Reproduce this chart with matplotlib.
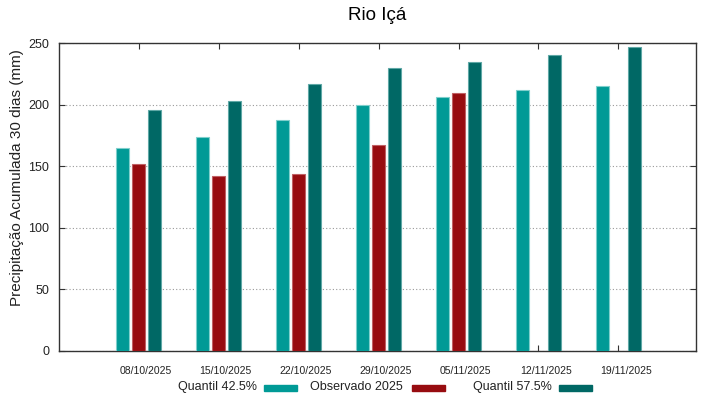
import matplotlib
matplotlib.use("Agg")
import matplotlib.pyplot as plt
from matplotlib.patches import Rectangle
import numpy as np

plt.rcParams['font.family'] = ['Liberation Sans', 'DejaVu Sans']

# data
datas = ['08/10/2025', '15/10/2025', '22/10/2025', '29/10/2025',
         '05/11/2025', '12/11/2025', '19/11/2025']
q425 = [164.6, 173.5, 187.8, 200.0, 206.5, 211.7, 215.0]
obs2025 = [152.0, 142.0, 143.7, 167.0, 209.3, np.nan, np.nan]
q575 = [195.4, 202.8, 217.1, 230.0, 235.0, 240.4, 246.9]

nomes = ['Quantil 42.5%', 'Observado 2025', 'Quantil 57.5%']
cores = ['#009a96', '#970c10', '#006865']
bordas = ['#7fcfcc', '#c06064', '#5fa8a6']

W, H = 719, 399
fig = plt.figure(figsize=(W / 100, H / 100), dpi=100)
ax = fig.add_axes([59 / W, 1 - 350.7 / H, (696 - 59) / W, (350.7 - 43.2) / H])

x = np.arange(len(datas))
largura = 0.16
desloc = [-0.2, 0.0, 0.2]
for serie, d, cor, borda in zip([q425, obs2025, q575], desloc, cores, bordas):
    ax.bar(x + d, serie, width=largura, color=cor, edgecolor=borda,
           linewidth=0.8, zorder=3)

ax.set_xlim(-0.996, 6.97)
ax.set_ylim(0, 250)
ax.set_yticks([0, 50, 100, 150, 200, 250])
# major ticks without labels, labels on shifted minor ticks (gnuplot look)
ax.set_xticks(x, labels=[''] * len(x))
ax.set_xticks(x + 0.09, labels=datas, minor=True)
ax.tick_params(axis='x', which='minor', length=0, labelsize=7.5,
               labelcolor='#222222', pad=11)
ax.tick_params(axis='y', labelsize=9, direction='in', left=True, right=True,
               length=4, colors='#333333', labelcolor='#222222', pad=7)
ax.tick_params(axis='x', which='major', direction='in', top=True, bottom=True,
               length=4, colors='#333333')
ax.yaxis.grid(True, linestyle=(0, (1, 2)), color='#999999', linewidth=0.8, zorder=1)
for s in ax.spines.values():
    s.set_color('#333333')
    s.set_linewidth(1.0)

ax.set_ylabel('Precipitação Acumulada 30 dias (mm)', fontsize=11, color='#222222')
ax.yaxis.set_label_coords((24 - 59) / 637, (350.7 - 177.5) / 307.5)
fig.text(377.5 / W, 1 - 15 / H, 'Rio Içá', ha='center', va='center', fontsize=13.5)

# legend gnuplot style: text then swatch
txt_fim = [257, 403, 552]
sw_ini = [264, 412, 559]
for nome, cor, tx, sx in zip(nomes, cores, txt_fim, sw_ini):
    fig.text(tx / W, 1 - 387 / H, nome, ha='right', va='center', fontsize=9,
             color='#222222')
    fig.patches.append(Rectangle((sx / W, 1 - 391 / H), 33 / W, 6 / H,
                                 transform=fig.transFigure, color=cor))

fig.savefig('out.png', dpi=100)
